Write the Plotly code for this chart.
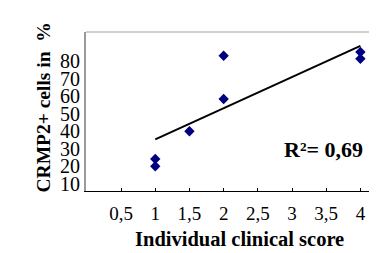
import plotly.graph_objects as go

# Data
score = [1, 1, 1.5, 2, 2, 4, 4]
crmp2_pct = [24.2, 20.1, 40.0, 83.0, 58.4, 85.1, 81.3]
trend_x = [1, 4]
trend_y = [35.4, 88.6]
x_tick_vals = [0.5, 1, 1.5, 2, 2.5, 3, 3.5, 4]
x_tick_text = ["0,5", "1", "1,5", "2", "2,5", "3", "3,5", "4"]
y_tick_vals = [10, 20, 30, 40, 50, 60, 70, 80]
y_tick_text = ["10", "20", "30", "40", "50", "60", "70", "80"]
r2_text = "R²= 0,69"

FONT = "Liberation Serif, Times New Roman, serif"

fig = go.Figure()
fig.add_trace(go.Scatter(
    x=trend_x, y=trend_y, mode="lines",
    line=dict(color="black", width=2), hoverinfo="skip", showlegend=False))
fig.add_trace(go.Scatter(
    x=score, y=crmp2_pct, mode="markers",
    marker=dict(symbol="diamond", size=8, color="#000080"),
    showlegend=False))

fig.update_layout(
    width=377, height=253,
    margin=dict(l=78, r=0, t=24, b=70),
    paper_bgcolor="white", plot_bgcolor="white",
    font=dict(family=FONT, color="black", size=18),
    xaxis=dict(
        range=[-0.013, 4.36], showgrid=False, zeroline=False,
        showline=True, linecolor="black", linewidth=1,
        tickmode="array", tickvals=x_tick_vals, ticktext=x_tick_text,
        ticks="inside", ticklen=3, tickcolor="black",
        ticklabelstandoff=5,
        tickfont=dict(family=FONT, size=19),
    ),
    yaxis=dict(
        range=[6.0, 96.5], showgrid=False, zeroline=False,
        showline=True, linecolor="#9a9a9a", linewidth=2,
        tickmode="array", tickvals=y_tick_vals, ticktext=y_tick_text,
        ticks="", ticklabelstandoff=0,
        tickfont=dict(family=FONT, size=20),
    ),
    shapes=[dict(type="line", xref="paper", yref="paper",
                 x0=0, x1=1, y0=1, y1=1,
                 line=dict(color="#a0a0a0", width=1))],
    annotations=[
        dict(text="<b>" + r2_text + "</b>", xref="x", yref="y",
             x=3.46, y=29.4, showarrow=False,
             font=dict(family=FONT, size=22, color="black")),
        dict(text="<b>Individual clinical score</b>", xref="paper", yref="paper",
             x=0.515, y=-0.384, showarrow=False,
             font=dict(family=FONT, size=20.5, color="black")),
        dict(text="<b>CRMP2+ cells in  %</b>", xref="paper", yref="paper",
             x=-0.184, y=0.528, textangle=-90, showarrow=False,
             font=dict(family=FONT, size=19.5, color="black")),
    ],
)

fig.write_html("out.html")
